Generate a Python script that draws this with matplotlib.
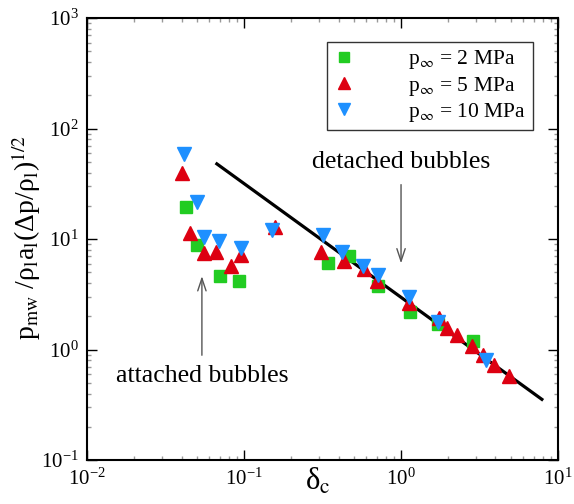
import numpy as np
import matplotlib
matplotlib.use("Agg")
import matplotlib.pyplot as plt

plt.rcParams['font.family'] = 'Liberation Serif'
plt.rcParams['mathtext.fontset'] = 'stix'

# p_inf = 2 MPa
d2 = [0.0423, 0.0497, 0.0699, 0.0933, 0.341, 0.467, 0.71, 1.135, 1.72, 2.87]
p2 = [19.7, 8.9, 4.6, 4.2, 6.1, 7.0, 3.8, 2.2, 1.69, 1.19]

# p_inf = 5 MPa
d5 = [0.040, 0.0453, 0.0553, 0.066, 0.083, 0.0948, 0.158, 0.31, 0.43, 0.58,
      0.70, 1.12, 1.75, 1.95, 2.29, 2.84, 3.34, 3.93, 4.87]
p5 = [39.9, 11.3, 7.5, 7.6, 5.7, 7.2, 13.0, 7.6, 6.3, 5.4,
      4.2, 2.65, 1.94, 1.58, 1.37, 1.08, 0.90, 0.73, 0.575]

# p_inf = 10 MPa
d10 = [0.0411, 0.0497, 0.0553, 0.0688, 0.0948, 0.150, 0.316, 0.419, 0.573,
       0.718, 1.12, 1.72, 3.49]
p10 = [58.7, 21.8, 10.4, 9.7, 8.3, 12.1, 10.8, 7.6, 5.7,
       4.7, 2.98, 1.79, 0.81]

# fitted power law, end points
fit_x = [0.067, 7.9]
fit_y = [48.0, 0.355]

fig = plt.figure(figsize=(5.74, 5.04), dpi=100)
ax = fig.add_axes([0.152, 0.087, 0.820, 0.877])

ax.plot(fit_x, fit_y, color='black', lw=2.3, zorder=2)
ax.plot(d2, p2, 's', color='#22cc22', ms=9, mec='#22cc22', ls='none',
        label=r'p$_\infty$ = 2 MPa', zorder=3)
ax.plot(d5, p5, '^', color='#dd0011', ms=10, ls='none',
        label=r'p$_\infty$ = 5 MPa', zorder=3)
ax.plot(d10, p10, 'v', color='#1e90ff', ms=10, ls='none',
        label=r'p$_\infty$ = 10 MPa', zorder=3)

ax.set_xscale('log')
ax.set_yscale('log')
ax.set_xlim(1e-2, 1e1)
ax.set_ylim(1e-1, 1e3)

ax.tick_params(which='both', direction='in', top=True, right=True,
               labelsize=15, width=1)
ax.tick_params(which='major', length=7, pad=6)
ax.tick_params(which='minor', length=3, color='#999999')
for s in ax.spines.values():
    s.set_linewidth(1.5)

ax.set_xlabel('δ$_\\mathrm{c}$', fontsize=22)
ax.xaxis.set_label_coords(0.49, -0.015)
ax.set_ylabel('p$_\\mathrm{mw}$ /ρ$_\\mathrm{l}$a$_\\mathrm{l}$(Δp/ρ$_\\mathrm{l}$)$^{1/2}$',
              fontsize=20)
ax.yaxis.set_label_coords(-0.095, 0.503)

arrow = dict(arrowstyle='->,head_length=0.9,head_width=0.3', color='#555555', lw=1)
ax.annotate('', xy=(1.0, 5.7), xytext=(1.0, 33), arrowprops=arrow)
ax.text(1.0, 40, 'detached bubbles', fontsize=18.5, ha='center', va='bottom')
ax.annotate('', xy=(0.0538, 4.9), xytext=(0.0538, 0.84), arrowprops=arrow)
ax.text(0.0538, 0.72, 'attached bubbles', fontsize=18.5, ha='center', va='top')

leg = ax.legend(loc='upper right', bbox_to_anchor=(0.947, 0.946), fontsize=15.5,
                frameon=True, fancybox=False, handletextpad=2.5,
                borderpad=0.3, labelspacing=0.15, handlelength=1.0,
                borderaxespad=0, markerscale=0.8)
leg.get_frame().set_edgecolor('black')
leg.get_frame().set_linewidth(1.0)

fig.savefig('out.png', dpi=100)
